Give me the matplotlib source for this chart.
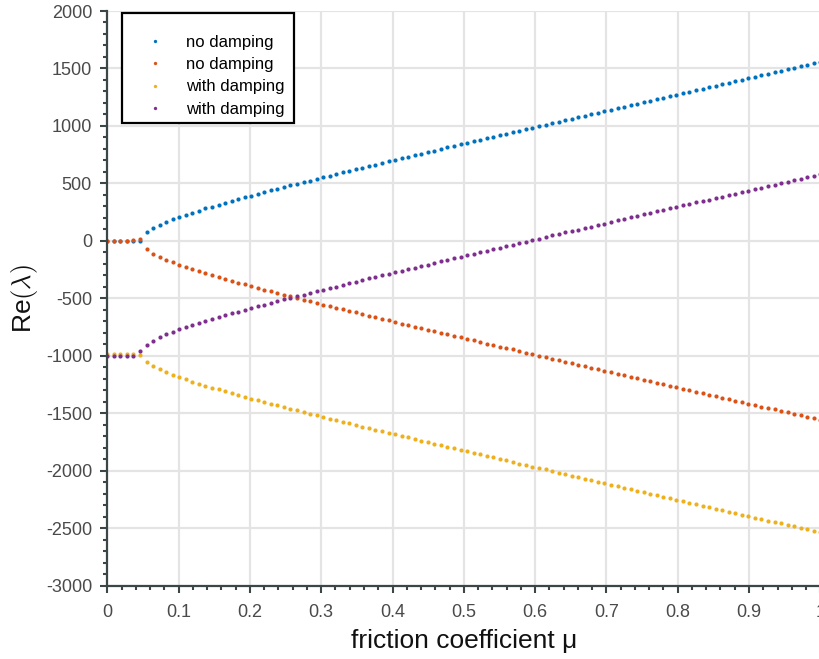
import numpy as np
import matplotlib
matplotlib.use("Agg")
import matplotlib.pyplot as plt
from matplotlib.ticker import MultipleLocator, FuncFormatter
from matplotlib.patches import Rectangle

# friction coefficient samples
mu = np.linspace(0.0, 1.0, 110)

# real parts of the eigenvalues, undamped system
re_nodamp_1 = [0, 0, 0, 0, -3, -3, 74, 111, 140, 165, 187, 208, 228, 246, 264, 282, 299, 315, 332, 347,
               363, 379, 394, 409, 424, 439, 453, 468, 482, 497, 511, 525, 539, 554, 568, 581, 595, 609, 623, 637,
               651, 664, 678, 691, 705, 719, 732, 746, 759, 772, 786, 799, 813, 826, 839, 853, 866, 879, 893, 906,
               919, 932, 945, 959, 972, 985, 998, 1011, 1025, 1038, 1051, 1064, 1077, 1090, 1103, 1116, 1129, 1142, 1156, 1169,
               1182, 1195, 1208, 1221, 1234, 1247, 1260, 1273, 1286, 1299, 1312, 1325, 1338, 1351, 1364, 1377, 1390, 1403, 1416, 1429,
               1442, 1455, 1467, 1480, 1493, 1506, 1519, 1532, 1545, 1558]
re_nodamp_2 = [0, 0, 0, 0, 9, 18, -74, -111, -140, -165, -187, -208, -228, -246, -264, -282, -299, -315, -332, -347,
               -363, -379, -394, -409, -424, -439, -453, -468, -482, -497, -511, -525, -539, -554, -568, -581, -595, -609, -623, -637,
               -651, -664, -678, -691, -705, -719, -732, -746, -759, -772, -786, -799, -813, -826, -839, -853, -866, -879, -893, -906,
               -919, -932, -945, -959, -972, -985, -998, -1011, -1025, -1038, -1051, -1064, -1077, -1090, -1103, -1116, -1129, -1142, -1156, -1169,
               -1182, -1195, -1208, -1221, -1234, -1247, -1260, -1273, -1286, -1299, -1312, -1325, -1338, -1351, -1364, -1377, -1390, -1403, -1416, -1429,
               -1442, -1455, -1467, -1480, -1493, -1506, -1519, -1532, -1545, -1558]

# real parts of the eigenvalues, damped system
re_damp_1 = [-983, -983, -983, -983, -983, -997, -1052, -1089, -1118, -1143, -1165, -1186, -1206, -1224, -1242, -1260, -1277, -1293, -1310, -1325,
             -1341, -1357, -1372, -1387, -1402, -1417, -1431, -1446, -1460, -1475, -1489, -1503, -1517, -1532, -1546, -1559, -1573, -1587, -1601, -1615,
             -1629, -1642, -1656, -1669, -1683, -1697, -1710, -1724, -1737, -1750, -1764, -1777, -1791, -1804, -1817, -1831, -1844, -1857, -1871, -1884,
             -1897, -1910, -1923, -1937, -1950, -1963, -1976, -1989, -2003, -2016, -2029, -2042, -2055, -2068, -2081, -2094, -2107, -2120, -2134, -2147,
             -2160, -2173, -2186, -2199, -2212, -2225, -2238, -2251, -2264, -2277, -2290, -2303, -2316, -2329, -2342, -2355, -2368, -2381, -2394, -2407,
             -2420, -2433, -2445, -2458, -2471, -2484, -2497, -2510, -2523, -2536]
re_damp_2 = [-1000, -1000, -1000, -1000, -1000, -959, -904, -867, -838, -813, -791, -770, -750, -732, -714, -696, -679, -663, -646, -631,
             -615, -599, -584, -569, -554, -539, -525, -510, -496, -481, -467, -453, -439, -424, -410, -397, -383, -369, -355, -341,
             -327, -314, -300, -287, -273, -259, -246, -232, -219, -206, -192, -179, -165, -152, -139, -125, -112, -99, -85, -72,
             -59, -46, -33, -19, -6, 7, 20, 33, 47, 60, 73, 86, 99, 112, 125, 138, 151, 164, 178, 191,
             204, 217, 230, 243, 256, 269, 282, 295, 308, 321, 334, 347, 360, 373, 386, 399, 412, 425, 438, 451,
             464, 477, 489, 502, 515, 528, 541, 554, 567, 580]

series = [
    (re_nodamp_1, "no damping", "#0072BD"),
    (re_nodamp_2, "no damping", "#D95319"),
    (re_damp_1, "with damping", "#EDB120"),
    (re_damp_2, "with damping", "#7E2F8E"),
]

plt.rcParams["font.family"] = ["Liberation Sans", "DejaVu Sans"]
plt.rcParams["mathtext.fontset"] = "cm"

W, H = 819, 659
fig = plt.figure(figsize=(W / 100, H / 100), dpi=100)
ax_l, ax_r, ax_t, ax_b = 107.3, 820.3, 11.0, 585.7
ax = fig.add_axes([ax_l / W, 1 - ax_b / H, (ax_r - ax_l) / W, (ax_b - ax_t) / H])

for vals, lab, col in series:
    ax.plot(mu, vals, linestyle="none", marker="o", markersize=3.0,
            markeredgewidth=0, color=col, label=lab)

ax.set_xlim(0, 1)
ax.set_ylim(-3000, 2000)
ax.xaxis.set_major_locator(MultipleLocator(0.1))
ax.xaxis.set_minor_locator(MultipleLocator(0.02))
ax.yaxis.set_major_locator(MultipleLocator(500))
ax.yaxis.set_minor_locator(MultipleLocator(100))
ax.xaxis.set_major_formatter(FuncFormatter(lambda v, p: f"{v:g}"))
ax.yaxis.set_major_formatter(FuncFormatter(lambda v, p: f"{v:g}"))

spine_col = "#3d4646"
label_col = "#4a4a4a"
for side in ("top", "right"):
    ax.spines[side].set_visible(False)
for side in ("left", "bottom"):
    ax.spines[side].set_color(spine_col)
    ax.spines[side].set_linewidth(1.6)

ax.tick_params(which="major", direction="out", length=5, width=1.5, color=spine_col,
               labelsize=13, labelcolor=label_col)
ax.tick_params(which="minor", direction="out", length=3, width=1.5, color=spine_col)
ax.tick_params(axis="x", which="major", pad=8)
ax.tick_params(axis="y", which="major", pad=6)

ax.grid(True, which="major", color="#e4e4e4", linewidth=1.6)
ax.set_axisbelow(True)

ax.set_xlabel("friction coefficient μ", fontsize=19, color="#111111", labelpad=6)
ax.set_ylabel(r"Re$(\lambda)$", fontsize=19, color="#111111", labelpad=4)

# legend entries, with a square frame drawn separately
leg = ax.legend(loc="upper left", bbox_to_anchor=(141.5 / W, 1 - 34.5 / H),
                bbox_transform=fig.transFigure, borderaxespad=0, borderpad=0,
                fontsize=12, frameon=False, markerscale=0.8,
                handlelength=1.6, handletextpad=1.1, labelspacing=0.45)
frame = Rectangle((122 / W, 1 - 123 / H), (294 - 122) / W, (123 - 13) / H,
                  transform=fig.transFigure, facecolor="white", edgecolor="black",
                  linewidth=1.6, zorder=4)
fig.add_artist(frame)
leg.set_zorder(5)
fig.add_artist(leg)

fig.savefig("out.png", dpi=100)
